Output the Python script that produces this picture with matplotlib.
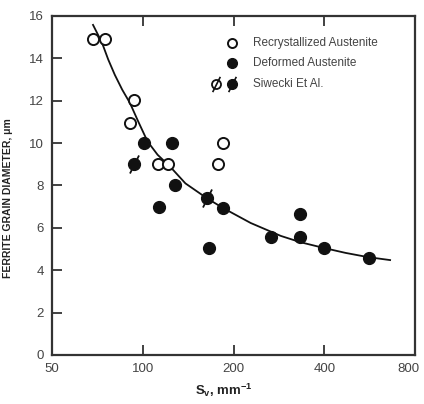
import numpy as np
import matplotlib
matplotlib.use("Agg")
import matplotlib.pyplot as plt
from matplotlib.transforms import ScaledTranslation

plt.rcParams['font.family'] = ['Liberation Sans', 'DejaVu Sans']
plt.rcParams['mathtext.fontset'] = 'custom'
plt.rcParams['mathtext.rm'] = 'Liberation Sans'
plt.rcParams['mathtext.bf'] = 'Liberation Sans:bold'

# Recrystallized austenite (open circles)
sv_recryst = [68.3, 75.0, 90.9, 93.2, 112.5, 121.0, 178.0, 185.0]
d_recryst = [14.9, 14.9, 10.95, 12.03, 9.0, 9.0, 9.0, 10.0]

# Deformed austenite (filled circles)
sv_deformed = [101.0, 112.8, 125.0, 128.0, 166.0, 185.0, 267.0, 331.0, 331.0, 399.0, 563.0]
d_deformed = [10.0, 6.97, 10.0, 8.0, 5.05, 6.95, 5.57, 6.65, 5.57, 5.05, 4.58]

# Siwecki et al. (slashed circles)
sv_siwecki = [93.2, 163.0]
d_siwecki = [9.0, 7.4]

# fitted curve, read along its length
sv_fit = [68.4, 73.2, 76.8, 80.8, 85.5, 90.7, 96.6, 103.7, 112.0, 123.4, 138.5, 163.5,
          185.0, 228.0, 287.0, 334.0, 399.0, 470.0, 558.0, 661.0]
d_fit = [15.58, 14.75, 13.95, 13.22, 12.52, 11.89, 11.02, 10.08, 9.45, 8.88, 8.10, 7.39,
         6.93, 6.23, 5.62, 5.32, 5.05, 4.82, 4.62, 4.48]

x_ticks = [50, 100, 200, 400, 800]
y_ticks = [0, 2, 4, 6, 8, 10, 12, 14, 16]

slash = [(-0.5, -1.0), (0.5, 1.0)]
ink = '#111111'

fig = plt.figure(figsize=(4.24, 4.04), dpi=100)
ax = fig.add_axes([0.1226, 0.1213, 0.8564, 0.8391])

ax.plot(sv_fit, d_fit, color=ink, lw=1.3, zorder=2)

ax.plot(sv_recryst, d_recryst, 'o', ms=8, mfc='white', mec=ink, mew=1.4, zorder=3)
ax.plot(sv_deformed, d_deformed, 'o', ms=8.5, mfc=ink, mec=ink, zorder=3)
ax.plot(sv_siwecki, d_siwecki, 'o', ms=8.5, mfc=ink, mec=ink, zorder=3)
ax.plot(sv_siwecki, d_siwecki, ls='none', marker=slash, ms=13, mec=ink, mew=1.3, zorder=4)

ax.set_xscale('log')
ax.set_xlim(50, 800)
ax.set_ylim(0, 16)
ax.set_xticks(x_ticks)
ax.set_xticklabels([str(v) for v in x_ticks])
ax.xaxis.set_minor_locator(matplotlib.ticker.NullLocator())
ax.set_yticks(y_ticks)

ax.tick_params(axis='both', direction='in', length=7, width=1.3, labelsize=9.5,
               labelcolor='#444444', color='#333333', pad=6)
ax.tick_params(axis='x', top=True)
ax.tick_params(axis='y', right=False)
for sp in ax.spines.values():
    sp.set_linewidth(1.6)
    sp.set_color('#333333')

# pull the last x label in so it stays inside the figure
last = ax.get_xticklabels()[-1]
last.set_transform(last.get_transform() + ScaledTranslation(-7 / 100, 0, fig.dpi_scale_trans))

ax.set_ylabel('FERRITE GRAIN DIAMETER, \u03bcm', fontsize=7.5, fontweight='bold', color='#222222')
ax.yaxis.set_label_coords(-0.108, 0.463)
ax.set_xlabel(r'$\mathbf{S_v}$, mm$^{\mathbf{-1}}$', fontsize=9.5, fontweight='bold', color='#222222')
ax.xaxis.set_label_coords(0.474, -0.078)

# legend drawn by hand
tr = ax.transAxes
lx = (232 - 52) / 363
tx = (253 - 52) / 363
rows = [(355 - 43) / 339, (355 - 63) / 339, (355 - 84) / 339]
ax.plot([lx], [rows[0]], 'o', ms=6.5, mfc='white', mec=ink, mew=1.4, transform=tr, clip_on=False)
ax.plot([lx], [rows[1]], 'o', ms=7, mfc=ink, mec=ink, transform=tr, clip_on=False)
ox = (216 - 52) / 363
ax.plot([ox], [rows[2]], 'o', ms=6.5, mfc='white', mec=ink, mew=1.3, transform=tr, clip_on=False)
ax.plot([lx], [rows[2]], 'o', ms=7, mfc=ink, mec=ink, transform=tr, clip_on=False)
ax.plot([ox, lx], [rows[2], rows[2]], ls='none', marker=slash, ms=11, mec=ink, mew=1.2,
        transform=tr, clip_on=False)
labels = ['Recrystallized Austenite', 'Deformed Austenite', 'Siwecki Et Al.']
for r, lab in zip(rows, labels):
    ax.text(tx, r, lab, transform=tr, fontsize=8.5, color='#444444', va='center', ha='left')

fig.savefig('out.png', dpi=100)
